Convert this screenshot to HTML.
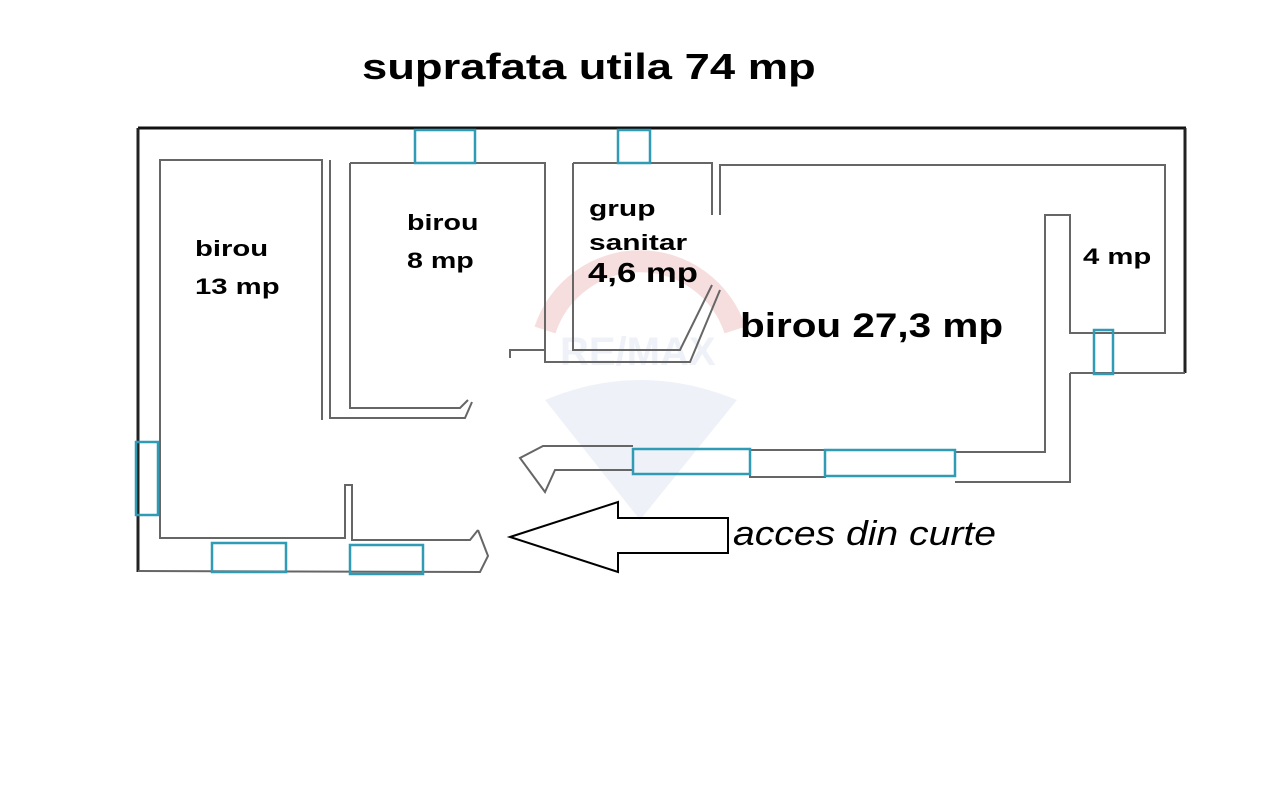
<!DOCTYPE html>
<html><head><meta charset="utf-8"><style>
body{margin:0;background:#fff;width:1280px;height:786px;overflow:hidden;font-family:"Liberation Sans",Arial,sans-serif}
.t{position:absolute;font-weight:bold;color:#000;white-space:nowrap;transform-origin:0 0}
</style></head><body>
<svg width="1280" height="786" style="position:absolute;left:0;top:0">
<path d="M545,330 A100,100 0 0 1 735,330" fill="none" stroke="#f6dede" stroke-width="22"/>
<path d="M545,400 Q640,360 737,400 L640,520 Z" fill="#eef2f8"/>
<text x="560" y="365" font-family="Liberation Sans" font-weight="bold" font-size="40" fill="#eef1f7">RE/MAX</text>
<g fill="none" stroke="#666" stroke-width="2">
<line x1="138" y1="128" x2="1186" y2="128" stroke="#111" stroke-width="3"/>
<line x1="138" y1="128" x2="138" y2="572" stroke="#222" stroke-width="3"/>
<line x1="1185" y1="128" x2="1185" y2="373" stroke="#222" stroke-width="3"/>
<polyline points="138,571 480,572 488,556 478,530"/>
<polyline points="160,515 160,160 322,160 322,420"/>
<polyline points="160,515 160,538 345,538 345,485 352,485 352,540 470,540 478,530"/>
<polyline points="330,160 330,418 465,418 472,402"/>
<polyline points="350,163 545,163 545,350"/>
<polyline points="350,163 350,408 460,408 468,400"/>
<polyline points="510,358 510,350 545,350 545,362 690,362 720,290"/>
<polyline points="573,163 573,350 680,350 712,285"/>
<polyline points="573,163 712,163 712,215"/>
<polyline points="720,215 720,165 1165,165 1165,333 1070,333 1070,215 1045,215 1045,452 955,452"/>
<polyline points="1070,373 1185,373"/>
<polyline points="1070,373 1070,482 955,482"/>
<polyline points="633,446 543,446 520,458 545,492 555,470 633,470"/>
<rect x="750" y="450" width="75" height="27"/>
</g>
<g fill="none" stroke="#2f9bb5" stroke-width="2.5">
<rect x="415" y="130" width="60" height="33"/>
<rect x="618" y="130" width="32" height="33"/>
<rect x="136" y="442" width="22" height="73"/>
<rect x="212" y="543" width="74" height="29"/>
<rect x="350" y="545" width="73" height="29"/>
<rect x="633" y="449" width="117" height="25"/>
<rect x="825" y="450" width="130" height="26"/>
<rect x="1094" y="330" width="19" height="44"/>
</g>
<polygon points="510,537 618,502 618,518 728,518 728,553 618,553 618,572" fill="none" stroke="#000" stroke-width="2"/>
</svg>
<div class="t" style="left:362px;top:46px;font-size:36px;transform:scaleX(1.26)">suprafata utila 74 mp</div>
<div class="t" style="left:195px;top:230px;font-size:22px;line-height:38px;transform:scaleX(1.33)">birou<br>13 mp</div>
<div class="t" style="left:407px;top:204px;font-size:22px;line-height:38px;transform:scaleX(1.3)">birou<br>8 mp</div>
<div class="t" style="left:589px;top:192px;font-size:22px;line-height:34px;transform:scaleX(1.36)">grup<br>sanitar</div>
<div class="t" style="left:588px;top:257px;font-size:28px;transform:scaleX(1.24)">4,6 mp</div>
<div class="t" style="left:740px;top:307px;font-size:34px;transform:scaleX(1.19)">birou 27,3 mp</div>
<div class="t" style="left:1083px;top:244px;font-size:22px;transform:scaleX(1.33)">4 mp</div>
<div style="position:absolute;left:733px;top:515px;font-size:34px;font-style:italic;color:#000;white-space:nowrap;transform-origin:0 0;transform:scaleX(1.15)">acces din curte</div>
</body></html>
